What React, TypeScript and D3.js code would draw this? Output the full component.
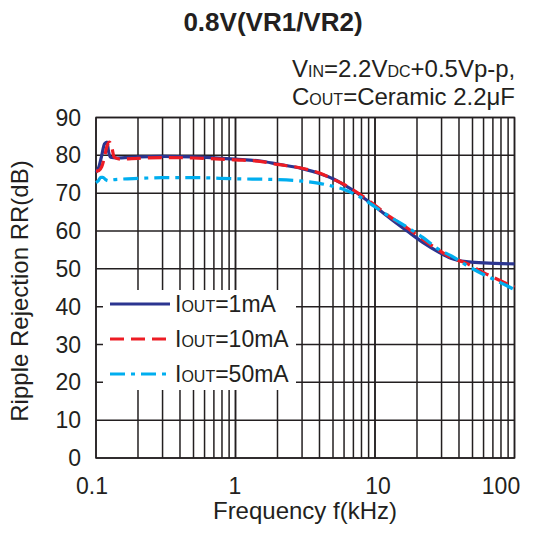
import React from "react";
import * as d3 from "d3";

const W = 535;
const H = 536;

const yTicks = [0, 10, 20, 30, 40, 50, 60, 70, 80, 90];
const xTickLabels = ["0.1", "1", "10", "100"];
const xTickValues = [0.1, 1, 10, 100];

const f1 = [0.1, 0.105, 0.11, 0.115, 0.12, 0.123, 0.127, 0.14, 0.2, 0.3, 0.5, 1, 1.5, 2, 3, 4, 5, 6, 7, 8, 10, 13, 17, 22, 29, 35, 45, 60, 100];
const v1 = [75.5, 77, 80, 83, 83.5, 81, 79.5, 79.3, 79.6, 79.7, 79.6, 79, 78.5, 77.7, 76.5, 75.2, 73.8, 72.2, 70.7, 69.2, 66.5, 63.2, 60, 57, 54.3, 52.8, 51.9, 51.6, 51.3];

const f10 = [0.1, 0.105, 0.11, 0.115, 0.12, 0.125, 0.13, 0.135, 0.15, 0.2, 0.3, 0.5, 1, 1.5, 2, 3, 4, 5, 6, 7, 8, 10, 13, 17, 22, 29, 35, 45, 60, 80, 100];
const v10 = [75.8, 76, 77, 79.5, 82.5, 83.5, 82, 79.5, 79, 79.2, 79.4, 79.3, 78.8, 78.4, 77.6, 76.6, 75.3, 73.7, 72.3, 70.8, 69.4, 66.8, 63.6, 60.8, 57.8, 54.8, 53, 51.5, 49, 46.8, 45.2];

const f50 = [0.1, 0.104, 0.108, 0.112, 0.117, 0.122, 0.13, 0.15, 0.2, 0.3, 0.5, 1, 2, 3, 4, 5, 6, 7, 8, 10, 13, 17, 22, 29, 35, 45, 60, 80, 100];
const v50 = [72.8, 73.3, 74.2, 74.2, 73.6, 73.3, 73.5, 73.7, 73.9, 74.1, 74.1, 73.8, 73.6, 73.2, 72.6, 71.8, 71, 69.9, 68.8, 66.4, 63.6, 61, 58.3, 55, 53.5, 51, 48.5, 46.3, 44.5];

const seriesNames = ["=1mA", "=10mA", "=50mA"];
const colors = ["#2B3590", "#ED1C24", "#00AEEF"];
const dashes = ["none", "14 7", "15 6 4 6"];

const FONT = "'Liberation Sans', Arial, Helvetica, sans-serif";

export default function App() {
  const x = d3.scaleLog().domain([0.1, 100]).range([96, 514.5]);
  const y = d3.scaleLinear().domain([0, 90]).range([458, 117.5]);

  const gridX: number[] = [];
  for (let d = 0.1; d < 100; d *= 10) {
    for (let k = 1; k <= 10; k++) gridX.push(+(d * k).toPrecision(6));
  }

  const line = d3
    .line<[number, number]>()
    .x((d) => x(d[0]))
    .y((d) => y(d[1]))
    .curve(d3.curveMonotoneX);

  const series = [
    { f: f1, v: v1 },
    { f: f10, v: v10 },
    { f: f50, v: v50 },
  ];

  const legendY = [304, 339, 374];
  const gridColor = "#231F20";
  const xLabelPos = [92, 235, 378, 501];

  return (
    <svg width={W} height={H} style={{ position: "absolute", left: 0, top: 0 }} fontFamily={FONT}>
      <rect width={W} height={H} fill="#fff" />
      <text x={273} y={31} textAnchor="middle" fontSize={26} fontWeight="bold" fill="#231F20">
        0.8V(VR1/VR2)
      </text>
      <text x={292} y={77} fontSize={24} fill="#231F20">
        V<tspan fontSize={16}>IN</tspan>=2.2V<tspan fontSize={16}>DC</tspan>+0.5Vp-p,
      </text>
      <text x={292} y={105} fontSize={24} fill="#231F20">
        C<tspan fontSize={16}>OUT</tspan>=Ceramic 2.2μF
      </text>

      {/* grid */}
      {gridX.map((g, i) => (
        <line key={"gx" + i} x1={x(g)} x2={x(g)} y1={y(0)} y2={y(90)} stroke={gridColor} strokeWidth={1.5} />
      ))}
      {yTicks.map((t) => (
        <line key={"gy" + t} x1={x(0.1)} x2={x(100)} y1={y(t)} y2={y(t)} stroke={gridColor} strokeWidth={1.5} />
      ))}
      <rect x={x(0.1)} y={y(90)} width={x(100) - x(0.1)} height={y(0) - y(90)} fill="none" stroke={gridColor} strokeWidth={1.5} />

      {/* legend box */}
      <rect x={103} y={290} width={193} height={100} fill="#fff" />

      {/* curves */}
      {series.map((s, i) => (
        <path
          key={"s" + i}
          d={line(s.f.map((f, j) => [f, s.v[j]] as [number, number])) || ""}
          fill="none"
          stroke={colors[i]}
          strokeWidth={3.2}
          strokeDasharray={dashes[i]}
        />
      ))}

      {/* legend */}
      {seriesNames.map((n, i) => (
        <g key={"l" + i}>
          <line x1={110} x2={170} y1={legendY[i]} y2={legendY[i]} stroke={colors[i]} strokeWidth={3.2} strokeDasharray={dashes[i]} />
          <text x={175} y={legendY[i] + 8} fontSize={23} fill="#231F20">
            I<tspan fontSize={16}>OUT</tspan>
            {n}
          </text>
        </g>
      ))}

      {/* y tick labels */}
      {yTicks.map((t) => (
        <text key={"yt" + t} x={81} y={y(t) + 8} textAnchor="end" fontSize={23} fill="#231F20">
          {t}
        </text>
      ))}
      {/* x tick labels */}
      {xTickValues.map((v, i) => (
        <text key={"xt" + i} x={xLabelPos[i]} y={494} textAnchor="middle" fontSize={23} fill="#231F20">
          {xTickLabels[i]}
        </text>
      ))}
      <text x={305} y={519} textAnchor="middle" fontSize={24} fill="#231F20">
        Frequency f(kHz)
      </text>
      <text transform={`translate(28,291) rotate(-90)`} textAnchor="middle" fontSize={24} fill="#231F20">
        Ripple Rejection RR(dB)
      </text>
    </svg>
  );
}
